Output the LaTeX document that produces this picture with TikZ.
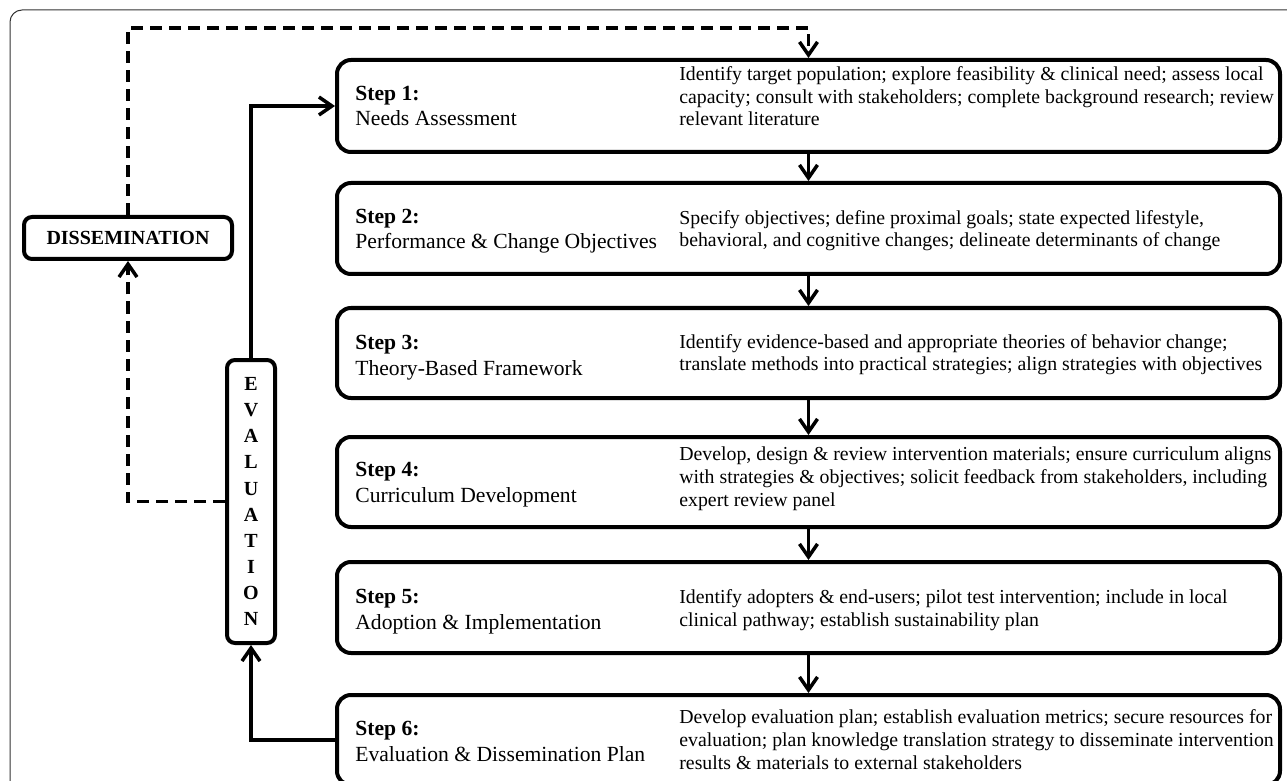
\documentclass[tikz,border=0pt]{standalone}
\usepackage{fontspec}
\setmainfont{Liberation Serif}
\usetikzlibrary{arrows.meta}
\begin{document}
\begin{tikzpicture}[x=0.5pt,y=-0.5pt,
  stepbox/.style={draw=black,line width=2pt,rounded corners=7pt,minimum width=471.5pt,inner sep=0pt},
  sidebox/.style={draw=black,line width=2pt,rounded corners=4pt,inner sep=0pt},
  lbl/.style={anchor=base west,align=left,inner sep=0pt,font=\fontsize{10.8}{12.9}\selectfont},
  desc/.style={anchor=base west,align=left,inner sep=0pt,font=\fontsize{9.9}{11.35}\selectfont},
  conn/.style={line width=1.75pt,-{Straight Barb[length=6.5pt,width=9pt]}},
  dconn/.style={conn,dash pattern=on 6pt off 3.5pt}]
\useasboundingbox (0,0) rectangle (1287,781);
\clip (0,0) rectangle (1287,781);
% outer frame
\draw[line width=0.5pt,draw=black!80,rounded corners=6pt] (10,820) -- (10,10) -- (1320,10);
% step boxes
\node[stepbox,minimum height=46pt] (b1) at (808.5,106) {};
\node[stepbox,minimum height=45.5pt] (b2) at (808.5,228.5) {};
\node[stepbox,minimum height=45pt] (b3) at (808.5,353) {};
\node[stepbox,minimum height=45pt] (b4) at (808.5,482) {};
\node[stepbox,minimum height=45.5pt] (b5) at (808.5,607.5) {};
\node[stepbox,minimum height=45pt] (b6) at (808.5,740) {};
% labels (anchored at baseline of last line)
\node[lbl] (l1) at (355,126) {\textbf{Step 1:}\\Needs Assessment};
\node[lbl] (l2) at (355,249) {\textbf{Step 2:}\\Performance \& Change Objectives};
\node[lbl] (l3) at (355,375) {\textbf{Step 3:}\\Theory-Based Framework};
\node[lbl] (l4) at (355,502) {\textbf{Step 4:}\\Curriculum Development};
\node[lbl] (l5) at (355,629) {\textbf{Step 5:}\\Adoption \& Implementation};
\node[lbl] (l6) at (355,761) {\textbf{Step 6:}\\Evaluation \& Dissemination Plan};
% descriptions (anchored at baseline of last line)
\node[desc] (d1) at (679,126) {Identify target population; explore feasibility \& clinical need; assess local\\capacity; consult with stakeholders; complete background research; review\\relevant literature};
\node[desc] (d2) at (679,247) {Specify objectives; define proximal goals; state expected lifestyle,\\behavioral, and cognitive changes; delineate determinants of change};
\node[desc] (d3) at (679,371) {Identify evidence-based and appropriate theories of behavior change;\\translate methods into practical strategies; align strategies with objectives};
\node[desc] (d4) at (679,506) {Develop, design \& review intervention materials; ensure curriculum aligns\\with strategies \& objectives; solicit feedback from stakeholders, including\\expert review panel};
\node[desc] (d5) at (679,626) {Identify adopters \& end-users; pilot test intervention; include in local\\clinical pathway; establish sustainability plan};
\node[desc] (d6) at (679,769) {Develop evaluation plan; establish evaluation metrics; secure resources for\\evaluation; plan knowledge translation strategy to disseminate intervention\\results \& materials to external stakeholders};
% side boxes
\node[sidebox,minimum width=24pt,minimum height=141.5pt,align=center,font=\bfseries\fontsize{10}{13.05}\selectfont] (ev) at (251,501.5) {E\\V\\A\\L\\U\\A\\T\\I\\O\\N};
\node[sidebox,minimum width=104pt,minimum height=21pt,font=\bfseries\fontsize{10}{12}\selectfont] (dis) at (128,238) {DISSEMINATION};
\coordinate (dtop) at (470,28);
% connectors
\draw[conn] (b1) -- (b2);
\draw[conn] (b2) -- (b3);
\draw[conn] (b3) -- (b4);
\draw[conn] (b4) -- (b5);
\draw[conn] (b5) -- (b6);
\draw[conn] (b6.west) -| (ev.south);
\draw[conn] (ev.north) |- (b1.west);
\draw[dconn] (ev.west) -| (dis.south);
\draw[dconn] (dis.north) |- (dtop) -| (b1.north);
\end{tikzpicture}
\end{document}
